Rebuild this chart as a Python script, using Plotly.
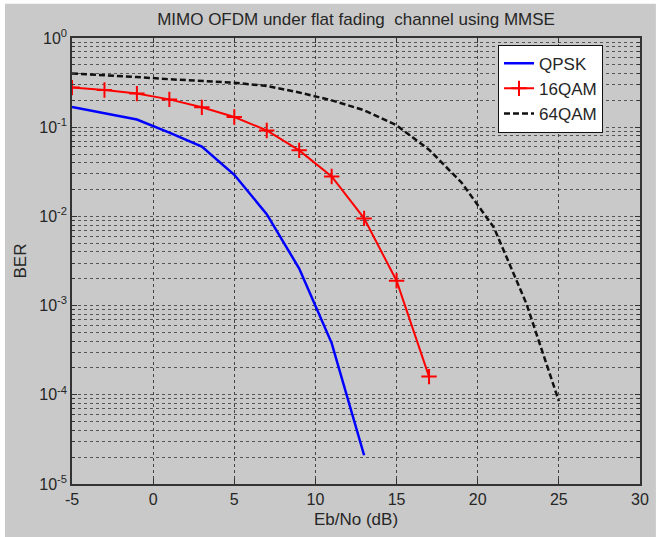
import plotly.graph_objects as go

# Eb/No sweep (dB) and measured BER for each modulation
ebno_qpsk = [-5, -3, -1, 1, 3, 5, 7, 9, 11, 13]
ber_qpsk = [0.168, 0.144, 0.122, 0.087, 0.0605, 0.0293, 0.0106, 0.0026, 3.8e-4, 2.1e-5]

ebno_16qam = [-5, -3, -1, 1, 3, 5, 7, 9, 11, 13, 15, 17]
ber_16qam = [0.278, 0.261, 0.238, 0.205, 0.167, 0.130, 0.092, 0.055, 0.028, 0.0095, 0.0019, 1.6e-4]

ebno_64qam = [-5, -3, -1, 1, 3, 5, 7, 9, 11, 13, 15, 17, 19, 21, 23, 25]
ber_64qam = [0.40, 0.385, 0.365, 0.345, 0.33, 0.315, 0.29, 0.245, 0.20, 0.155, 0.105,
             0.056, 0.024, 0.0075, 0.00105, 8.5e-5]

x_ticks = [-5, 0, 5, 10, 15, 20, 25, 30]
decades = [-5, -4, -3, -2, -1, 0]

# labelled decade ticks and unlabelled digit ticks between them
y_major = [10.0 ** d for d in decades]
y_major_text = [f"10<sup>{d}</sup>" for d in decades]
y_minor = [m * 10.0 ** d for d in decades[:-1] for m in range(2, 10)]

FONT = "Liberation Sans, Arial, sans-serif"
TXT = "#262626"

fig = go.Figure()
fig.add_trace(go.Scatter(
    x=ebno_qpsk, y=ber_qpsk, name="QPSK", mode="lines",
    line=dict(color="#0000ff", width=2.5),
))
fig.add_trace(go.Scatter(
    x=ebno_16qam, y=ber_16qam, name="16QAM", mode="lines+markers",
    line=dict(color="#ff0000", width=2),
    marker=dict(symbol="cross-thin", size=11, color="#ff0000",
                line=dict(color="#ff0000", width=2)),
))
fig.add_trace(go.Scatter(
    x=ebno_64qam, y=ber_64qam, name="64QAM", mode="lines",
    line=dict(color="#111111", width=2.5, dash="6px,3px"),
))

# grey figure panel with a thin white rim
fig.add_shape(type="rect", xref="paper", yref="paper",
              x0=-0.118, x1=1.028, y0=-0.125, y1=1.077,
              fillcolor="#c9c9c9", line=dict(width=0), layer="below")

grid = dict(showgrid=True, gridcolor="#555555", gridwidth=1, griddash="dot")

fig.update_layout(
    width=663, height=537,
    margin=dict(l=72, r=23, t=38, b=53),
    paper_bgcolor="#ffffff",
    plot_bgcolor="#ffffff",
    font=dict(family=FONT, size=16, color=TXT),
    title=dict(text="MIMO OFDM under flat fading  channel using MMSE",
               x=0.537, xanchor="center", y=0.965, yanchor="middle",
               font=dict(size=17, color=TXT)),
    showlegend=True,
    legend=dict(x=0.75, xanchor="left", y=0.985, yanchor="top",
                bgcolor="#ffffff", bordercolor="#111111", borderwidth=1,
                font=dict(size=17, color=TXT), tracegroupgap=0),
    xaxis=dict(
        range=[-5, 30], tickvals=x_ticks, ticktext=[str(v) for v in x_ticks],
        ticks="inside", ticklen=5, tickcolor="#333333",
        showline=True, linecolor="#333333", linewidth=1.5, mirror="ticks",
        gridcolor="#444444", showgrid=True, gridwidth=1, griddash="dot",
        zeroline=False,
        title=dict(text="Eb/No (dB)", standoff=6, font=dict(size=17)),
        tickfont=dict(size=16),
    ),
    yaxis=dict(
        type="log", range=[-5, 0], tickvals=y_major, ticktext=y_major_text,
        ticks="inside", ticklen=5, tickcolor="#333333",
        showline=True, linecolor="#333333", linewidth=1.5, mirror="ticks",
        zeroline=False,
        minor=dict(tickvals=y_minor, ticks="inside", ticklen=3,
                   tickcolor="#333333", **grid),
        title=dict(text="BER", standoff=8, font=dict(size=17)),
        tickfont=dict(size=16),
        **grid,
    ),
)

fig.write_html("out.html")
